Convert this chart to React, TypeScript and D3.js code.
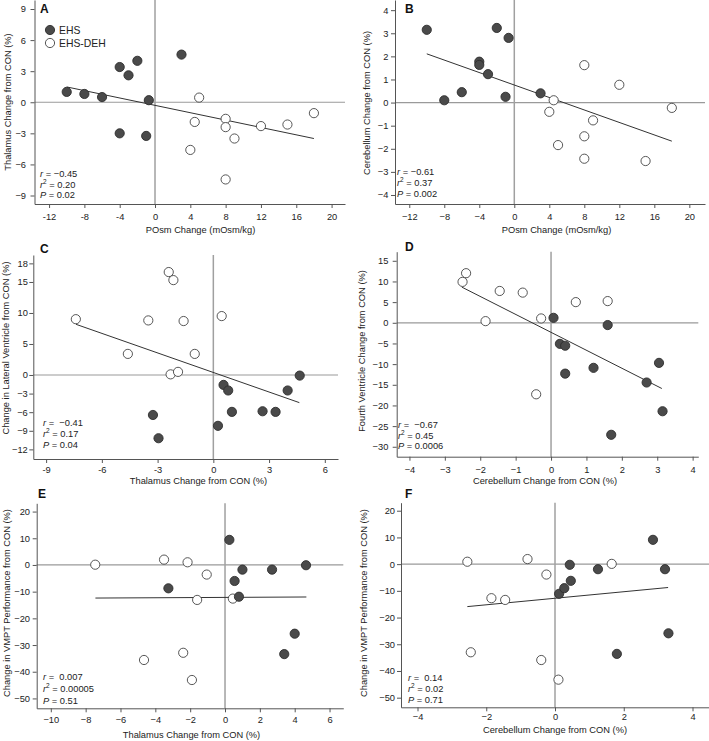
import React, { useEffect, useRef } from 'react';
import * as d3 from 'd3';

type Pt = [number, number];

// A: thalamus vs POsm change
const aEhs: Pt[] = [[-10, 1.0], [-8, 0.8], [-6, 0.5], [-4, 3.4], [-3, 2.6], [-2, 4.0], [-0.7, 0.2], [3, 4.6], [-4, -3.0], [-1, -3.25]];
const aDeh: Pt[] = [[5, 0.45], [4.5, -1.9], [4, -4.6], [8, -1.6], [8, -2.4], [8, -7.45], [9, -3.5], [12, -2.3], [15, -2.15], [18, -1.05]];
const aFit: Pt[] = [[-10, 1.48], [18, -3.5]];

// B: cerebellum vs POsm change
const bEhs: Pt[] = [[-10, 3.15], [-8, 0.1], [-6, 0.45], [-4, 1.77], [-4, 1.63], [-3, 1.23], [-2, 3.23], [-0.65, 2.8], [-1, 0.25], [3, 0.4]];
const bDeh: Pt[] = [[4.5, 0.1], [4, -0.4], [5, -1.84], [8, 1.62], [8, -1.46], [8, -2.43], [9, -0.77], [12, 0.77], [15, -2.53], [18, -0.23]];
const bFit: Pt[] = [[-10, 2.11], [18, -1.67]];

// C: lateral ventricle vs thalamus
const cEhs: Pt[] = [[-3.25, -6.45], [-2.95, -10.2], [0.25, -8.2], [0.55, -1.6], [0.8, -2.5], [1.0, -5.95], [2.65, -5.85], [3.35, -5.95], [4.0, -2.5], [4.65, -0.1]];
const cDeh: Pt[] = [[-7.4, 9.0], [-4.6, 3.4], [-3.5, 8.8], [-2.4, 16.6], [-2.15, 15.3], [-2.3, 0.1], [-1.9, 0.5], [-1.6, 8.7], [-1.0, 3.4], [0.45, 9.5]];
const cFit: Pt[] = [[-7.39, 8.17], [4.63, -4.46]];

// D: fourth ventricle vs cerebellum
const dEhs: Pt[] = [[0.07, 1.2], [0.25, -5.1], [0.4, -5.55], [0.4, -12.3], [1.2, -10.9], [1.6, -0.55], [1.7, -27.1], [2.7, -14.45], [3.05, -9.7], [3.15, -21.4]];
const dDeh: Pt[] = [[-2.5, 9.9], [-2.4, 12.0], [-1.85, 0.4], [-1.45, 7.7], [-0.8, 7.3], [-0.28, 1.05], [-0.42, -17.3], [0.7, 5.0], [1.6, 5.25]];
const dFit: Pt[] = [[-2.52, 8.63], [3.13, -15.9]];

// E: VMPT vs thalamus
const eEhs: Pt[] = [[-3.25, -8.75], [0.25, 9.4], [0.55, -6.0], [0.8, -11.9], [1.0, -1.75], [2.7, -1.75], [3.4, -33.4], [4.0, -25.75], [4.65, -0.1]];
const eDeh: Pt[] = [[-7.45, 0.1], [-4.65, -35.6], [-3.5, 2.0], [-2.4, -32.9], [-2.15, 1.0], [-1.9, -43.1], [-1.6, -13.1], [-1.05, -3.6], [0.45, -12.6]];
const eFit: Pt[] = [[-7.44, -12.4], [4.67, -12.0]];

// F: VMPT vs cerebellum
const fEhs: Pt[] = [[0.12, -11.1], [0.27, -9.0], [0.43, -0.25], [0.46, -6.25], [1.25, -1.9], [1.8, -33.6], [2.85, 9.1], [3.2, -1.9], [3.3, -25.9]];
const fDeh: Pt[] = [[-2.55, 0.9], [-2.45, -33], [-1.85, -12.75], [-1.45, -13.4], [-0.8, 1.9], [-0.4, -35.9], [-0.25, -3.9], [0.1, -43.25], [1.65, 0.1]];
const fFit: Pt[] = [[-2.55, -15.9], [3.29, -8.75]];

const posmTicks = [-12, -8, -4, 0, 4, 8, 12, 16, 20];
const aYTicks = [-9, -6, -3, 0, 3, 6, 9];
const bYTicks = [-4, -3, -2, -1, 0, 1, 2, 3, 4];
const cXTicks = [-9, -6, -3, 0, 3, 6];
const cYTicks = [-12, -9, -6, -3, 0, 5, 10, 15, 18];
const dXTicks = [-4, -3, -2, -1, 0, 1, 2, 3, 4];
const dYTicks = [-30, -25, -20, -15, -10, -5, 0, 5, 10, 15];
const eXTicks = [-10, -8, -6, -4, -2, 0, 2, 4, 6];
const vmptTicks = [-50, -40, -30, -20, -10, 0, 10, 20];
const fXTicks = [-4, -2, 0, 2, 4];

const aStats = ['−0.45', '0.20', '0.02'];
const bStats = ['−0.61', '0.37', '0.002'];
const cStats = [' −0.41', '0.17', '0.04'];
const dStats = [' −0.67', '0.45', '0.0006'];
const eStats = [' 0.007', '0.00005', '0.51'];
const fStats = [' 0.14', '0.02', '0.71'];

const FONT = '"Liberation Sans", Arial, sans-serif';
const FS = 9.3;
const hyph = (v: number) => String(v);
const minus = (v: number) => String(v).replace('-', '−');

const panels = [
  { letter: 'A', ehs: aEhs, deh: aDeh, fit: aFit, xTicks: posmTicks, yTicks: aYTicks, xFmt: hyph, yFmt: minus,
    xLabel: 'POsm Change (mOsm/kg)', yLabel: 'Thalamus Change from CON (%)', stats: aStats,
    fr: { l: 34.5, r: 345, t: 0, b: 204 }, xd: [-13.65, 21.52], yd: [-9.82, 9.87], pad: [5.5, 4.5],
    let: [40, 13], yl: [7.5, 102], xl: [200.5, 230], st: [40, 177, 10.5], legend: true },
  { letter: 'B', ehs: bEhs, deh: bDeh, fit: bFit, xTicks: posmTicks, yTicks: bYTicks, xFmt: minus, yFmt: minus,
    xLabel: 'POsm Change (mOsm/kg)', yLabel: 'Cerebellum Change from CON (%)', stats: bStats,
    fr: { l: 395, r: 705, t: 0, b: 204 }, xd: [-13.63, 21.79], yd: [-4.39, 4.44], pad: [5.4, 2.7],
    let: [405, 13], yl: [366.5, 103], xl: [556.5, 230], st: [397, 175, 11] },
  { letter: 'C', ehs: cEhs, deh: cDeh, fit: cFit, xTicks: cXTicks, yTicks: cYTicks, xFmt: hyph, yFmt: minus,
    xLabel: 'Thalamus Change from CON (%)', yLabel: 'Change in Lateral Ventricle from CON (%)', stats: cStats,
    fr: { l: 33.3, r: 338, t: 255, b: 459 }, xd: [-9.69, 6.71], yd: [-13.55, 19.35], pad: [3, 1.5],
    let: [40, 253], yl: [5.5, 348], xl: [198.5, 480.5], st: [43, 426, 11] },
  { letter: 'D', ehs: dEhs, deh: dDeh, fit: dFit, xTicks: dXTicks, yTicks: dYTicks, xFmt: minus, yFmt: minus,
    xLabel: 'Cerebellum Change from CON (%)', yLabel: 'Fourth Ventricle Change from CON (%)', stats: dStats,
    fr: { l: 396.7, r: 698.3, t: 251.7, b: 456.7 }, xd: [-4.36, 4.16], yd: [-32.4, 17.2], pad: [6, 4.4],
    let: [405, 251], yl: [362, 351], xl: [545, 481], st: [398, 428, 10.5] },
  { letter: 'E', ehs: eEhs, deh: eDeh, fit: eFit, xTicks: eXTicks, yTicks: vmptTicks, xFmt: minus, yFmt: minus,
    xLabel: 'Thalamus Change from CON (%)', yLabel: 'Change in VMPT Performance from CON (%)', stats: eStats,
    fr: { l: 36.7, r: 343.3, t: 503.3, b: 708.3 }, xd: [-10.81, 6.79], yd: [-53.7, 23.1], pad: [3.7, 2.7],
    let: [38, 498], yl: [7, 603], xl: [191.5, 735], st: [43, 680, 11.8] },
  { letter: 'F', ehs: fEhs, deh: fDeh, fit: fFit, xTicks: fXTicks, yTicks: vmptTicks, xFmt: minus, yFmt: minus,
    xLabel: 'Cerebellum Change from CON (%)', yLabel: 'Change in VMPT Performance from CON (%)', stats: fStats,
    fr: { l: 401, r: 709, t: 502.7, b: 707.3 }, xd: [-4.48, 4.48], yd: [-53.6, 23.0], pad: [2, 2],
    let: [405, 498], yl: [364, 603], xl: [555, 729.5], st: [408, 681, 11.2] },
];

const App = () => {
  const svgRef = useRef<SVGSVGElement>(null);

  useEffect(() => {
    const svg = d3.select(svgRef.current);
    svg.selectAll('*').remove();

    panels.forEach(p => {
      const { fr } = p;
      const x = d3.scaleLinear().domain(p.xd).range([fr.l, fr.r]);
      const y = d3.scaleLinear().domain(p.yd).range([fr.b, fr.t]);
      const g = svg.append('g');

      // zero reference lines
      g.append('line').attr('x1', fr.l).attr('x2', fr.r).attr('y1', y(0)).attr('y2', y(0))
        .attr('stroke', '#9a9a9a').attr('stroke-width', 1.2);
      g.append('line').attr('x1', x(0)).attr('x2', x(0)).attr('y1', fr.t).attr('y2', fr.b)
        .attr('stroke', '#a0a0a0').attr('stroke-width', 1.5);

      const xAxis = g.append('g').attr('transform', `translate(0,${fr.b})`)
        .call(d3.axisBottom(x).tickValues(p.xTicks).tickFormat(d => p.xFmt(+d)).tickSize(4).tickSizeOuter(0).tickPadding(p.pad[0]));
      const yAxis = g.append('g').attr('transform', `translate(${fr.l},0)`)
        .call(d3.axisLeft(y).tickValues(p.yTicks).tickFormat(d => p.yFmt(+d)).tickSize(4).tickSizeOuter(0).tickPadding(p.pad[1]));
      [xAxis, yAxis].forEach(a => {
        a.attr('font-family', FONT).attr('font-size', FS);
        a.select('.domain').attr('stroke', '#555');
        a.selectAll('.tick line').attr('stroke', '#555');
        a.selectAll('.tick text').attr('fill', '#222');
      });

      // regression line
      g.append('path').datum(p.fit)
        .attr('d', d3.line<Pt>().x(d => x(d[0])).y(d => y(d[1])))
        .attr('fill', 'none').attr('stroke', '#333').attr('stroke-width', 1);

      g.selectAll('circle.deh').data(p.deh).enter().append('circle')
        .attr('cx', d => x(d[0])).attr('cy', d => y(d[1])).attr('r', 4.6)
        .attr('fill', '#fff').attr('stroke', '#444').attr('stroke-width', 0.9);
      g.selectAll('circle.ehs').data(p.ehs).enter().append('circle')
        .attr('cx', d => x(d[0])).attr('cy', d => y(d[1])).attr('r', 4.6)
        .attr('fill', '#4a4a4a').attr('stroke', '#2e2e2e').attr('stroke-width', 0.9);

      // panel letter
      g.append('text').attr('x', p.let[0]).attr('y', p.let[1])
        .attr('font-family', FONT).attr('font-size', 12).attr('font-weight', 'bold').attr('fill', '#111')
        .text(p.letter);

      // axis titles
      g.append('text').attr('x', p.xl[0]).attr('y', p.xl[1]).attr('dy', '0.35em')
        .attr('text-anchor', 'middle').attr('font-family', FONT).attr('font-size', FS).attr('fill', '#222')
        .text(p.xLabel);
      g.append('text').attr('transform', `translate(${p.yl[0]},${p.yl[1]}) rotate(-90)`).attr('dy', '0.35em')
        .attr('text-anchor', 'middle').attr('font-family', FONT).attr('font-size', FS).attr('fill', '#222')
        .text(p.yLabel);

      // stats
      const [sx, sy, sp] = p.st;
      const st = g.append('g').attr('font-family', FONT).attr('font-size', FS).attr('fill', '#222');
      const t1 = st.append('text').attr('x', sx).attr('y', sy).attr('xml:space', 'preserve');
      t1.append('tspan').attr('font-style', 'italic').text('r');
      t1.append('tspan').text(` = ${p.stats[0]}`);
      const t2 = st.append('text').attr('x', sx).attr('y', sy + sp);
      t2.append('tspan').attr('font-style', 'italic').text('r');
      t2.append('tspan').attr('font-size', 6.5).attr('dy', -3.8).text('2');
      t2.append('tspan').attr('dy', 3.8).text(` = ${p.stats[1]}`);
      const t3 = st.append('text').attr('x', sx).attr('y', sy + 2 * sp);
      t3.append('tspan').attr('font-style', 'italic').text('P');
      t3.append('tspan').text(` = ${p.stats[2]}`);

      if (p.legend) {
        const lg = g.append('g').attr('font-family', FONT).attr('font-size', 10.4).attr('fill', '#222');
        [['EHS', '#4a4a4a', '#2e2e2e'], ['EHS-DEH', '#fff', '#444']].forEach(([name, fill, stroke], i) => {
          lg.append('circle').attr('cx', 50).attr('cy', 30 + i * 13).attr('r', 4.6)
            .attr('fill', fill).attr('stroke', stroke).attr('stroke-width', 0.9);
          lg.append('text').attr('x', 59).attr('y', 30 + i * 13).attr('dy', '0.35em').text(name);
        });
      }
    });
  }, []);

  return (
    <svg ref={svgRef} width={709} height={741}
      style={{ position: 'absolute', left: 0, top: 0, background: '#fff' }} />
  );
};

export default App;
